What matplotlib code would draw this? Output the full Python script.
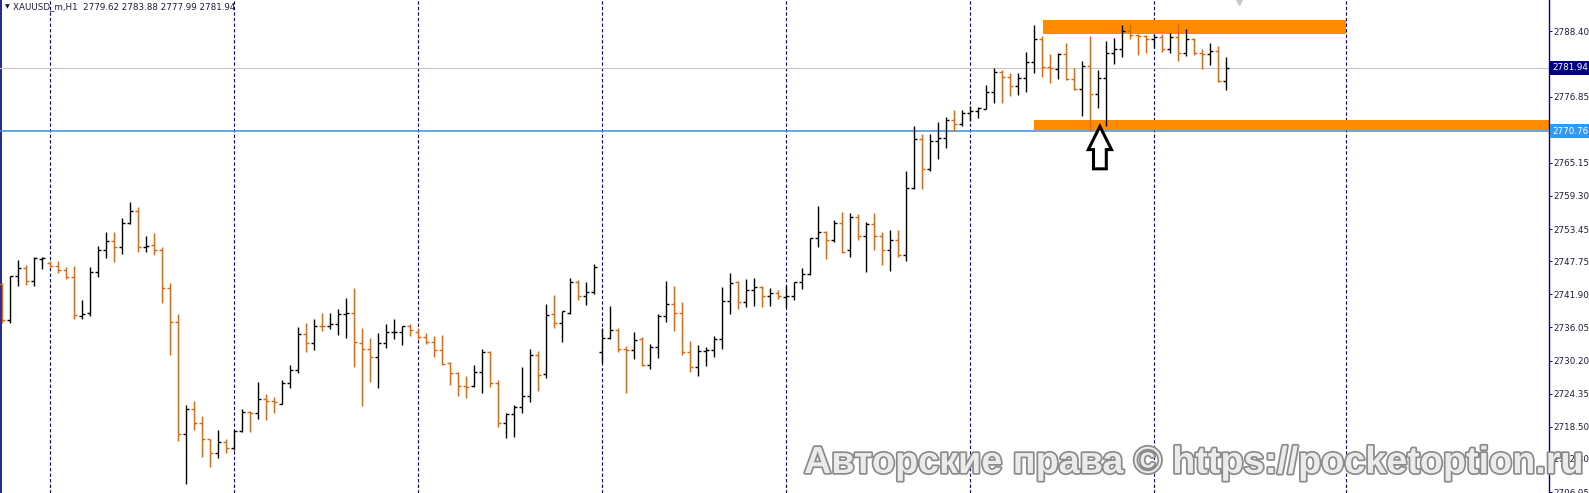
import numpy as np
import matplotlib
matplotlib.use("Agg")
import matplotlib.pyplot as plt
import matplotlib.patches as mpatches
import matplotlib.patheffects as pe

# XAUUSD_m, H1 bars
opens = [2743.7, 2737.4, 2745.2, 2746.6, 2744.3, 2748.2, 2747.5, 2747.0, 2746.2, 2744.9,
         2738.1, 2738.6, 2745.9, 2749.7, 2751.3, 2750.2, 2754.6, 2756.6, 2750.3, 2750.6,
         2749.7, 2743.0, 2737.1, 2717.3, 2721.6, 2719.1, 2716.3, 2713.8, 2715.8, 2714.7,
         2717.7, 2721.1, 2720.9, 2723.4, 2723.0, 2722.6, 2726.2, 2728.5, 2734.9, 2733.3,
         2736.4, 2736.3, 2736.7, 2738.4, 2738.7, 2733.3, 2732.2, 2730.8, 2733.3, 2735.2,
         2735.3, 2736.3, 2735.3, 2734.4, 2733.5, 2732.0, 2729.8, 2728.0, 2725.7, 2725.7,
         2728.1, 2731.8, 2726.3, 2719.1, 2720.7, 2722.0, 2723.9, 2731.2, 2727.8, 2738.4,
         2736.8, 2738.6, 2744.1, 2741.7, 2742.3, 2731.8, 2734.2, 2735.6, 2732.2, 2732.0,
         2734.0, 2729.4, 2732.6, 2738.1, 2740.2, 2738.6, 2731.8, 2729.0, 2731.9, 2732.0,
         2734.0, 2740.7, 2744.1, 2740.5, 2742.6, 2743.2, 2741.6, 2742.1, 2741.4, 2741.7,
         2744.1, 2745.5, 2751.9, 2752.9, 2751.5, 2754.5, 2749.7, 2755.6, 2752.3, 2754.4,
         2752.2, 2749.7, 2751.5, 2748.9, 2760.7, 2769.3, 2764.0, 2769.1, 2769.5, 2772.7,
         2772.0, 2774.0, 2774.4, 2774.7, 2777.7, 2781.3, 2780.3, 2778.7, 2780.1, 2782.9,
         2787.0, 2782.1, 2781.8, 2784.4, 2779.9, 2778.3, 2782.3, 2777.3, 2780.1, 2784.6,
         2785.2, 2788.4, 2787.7, 2787.5, 2787.0, 2787.4, 2785.3, 2787.4, 2784.5, 2787.0,
         2784.5, 2784.4, 2784.9, 2779.62]
highs = [2743.9, 2745.2, 2748.0, 2747.1, 2748.6, 2748.5, 2747.8, 2747.8, 2746.7, 2746.9,
         2740.9, 2746.7, 2750.5, 2752.9, 2752.9, 2755.4, 2758.2, 2757.4, 2752.2, 2752.7,
         2750.2, 2743.9, 2738.4, 2722.3, 2723.1, 2720.4, 2716.4, 2717.9, 2716.4, 2717.9,
         2721.6, 2721.2, 2726.4, 2724.3, 2723.7, 2726.7, 2729.4, 2736.1, 2736.8, 2737.6,
         2738.7, 2738.7, 2739.3, 2741.3, 2743.0, 2736.0, 2734.2, 2735.0, 2736.7, 2737.6,
         2736.3, 2736.6, 2735.9, 2735.1, 2734.5, 2734.7, 2730.0, 2728.1, 2727.5, 2729.4,
         2732.2, 2731.9, 2726.8, 2720.9, 2722.3, 2729.1, 2732.2, 2731.9, 2740.2, 2741.8,
         2739.0, 2744.8, 2744.5, 2744.1, 2747.2, 2736.0, 2739.9, 2736.0, 2732.8, 2735.3,
         2734.4, 2733.1, 2738.4, 2744.3, 2743.4, 2740.6, 2733.7, 2732.9, 2732.6, 2734.5,
         2743.2, 2745.6, 2744.3, 2744.6, 2744.8, 2743.3, 2743.1, 2742.7, 2743.3, 2744.1,
         2746.5, 2751.9, 2757.5, 2753.1, 2755.1, 2756.5, 2756.3, 2756.1, 2754.7, 2756.3,
         2753.0, 2753.2, 2753.3, 2763.8, 2771.6, 2770.3, 2770.2, 2772.4, 2773.3, 2774.5,
         2774.5, 2775.2, 2775.0, 2778.9, 2782.0, 2781.6, 2781.1, 2781.0, 2784.7, 2789.5,
         2787.6, 2784.4, 2784.5, 2786.4, 2782.0, 2783.2, 2787.5, 2781.6, 2786.7, 2787.3,
         2789.5, 2789.7, 2787.9, 2787.8, 2787.9, 2787.9, 2788.1, 2789.9, 2788.8, 2787.3,
         2785.2, 2786.3, 2785.8, 2783.88]
lows = [2736.8, 2736.9, 2743.3, 2743.6, 2743.4, 2746.4, 2746.8, 2745.6, 2744.6, 2737.6,
        2737.6, 2738.0, 2745.0, 2748.4, 2747.7, 2749.0, 2754.3, 2749.4, 2749.4, 2748.8,
        2740.4, 2731.2, 2716.0, 2708.3, 2717.9, 2713.2, 2711.4, 2712.9, 2713.8, 2714.4,
        2717.6, 2717.5, 2719.9, 2719.7, 2721.0, 2722.5, 2725.4, 2728.0, 2731.8, 2732.1,
        2735.5, 2735.8, 2734.7, 2734.2, 2729.1, 2722.1, 2726.5, 2725.4, 2732.5, 2734.1,
        2733.0, 2734.6, 2734.1, 2733.1, 2730.9, 2729.5, 2725.8, 2724.0, 2723.5, 2725.5,
        2724.5, 2725.6, 2718.5, 2716.5, 2716.7, 2720.9, 2722.9, 2724.8, 2727.2, 2736.0,
        2733.5, 2738.5, 2740.9, 2740.0, 2742.0, 2729.8, 2734.1, 2731.8, 2724.4, 2730.4,
        2729.3, 2728.7, 2730.7, 2737.1, 2735.4, 2731.1, 2728.1, 2727.5, 2729.2, 2730.9,
        2732.3, 2738.5, 2739.4, 2739.7, 2739.9, 2739.7, 2739.9, 2741.0, 2739.6, 2740.9,
        2742.9, 2745.4, 2750.2, 2748.2, 2751.1, 2749.2, 2748.6, 2751.5, 2745.9, 2749.8,
        2747.1, 2746.0, 2748.6, 2747.8, 2760.6, 2760.5, 2763.8, 2765.9, 2767.8, 2770.8,
        2771.6, 2772.6, 2773.1, 2774.6, 2775.8, 2775.8, 2776.9, 2777.2, 2777.7, 2781.0,
        2780.3, 2779.3, 2780.0, 2779.8, 2778.0, 2773.4, 2770.8, 2774.9, 2771.6, 2782.6,
        2783.9, 2787.1, 2784.2, 2784.5, 2785.6, 2784.8, 2784.5, 2783.2, 2784.1, 2784.2,
        2781.8, 2782.5, 2779.4, 2777.99]
closes = [2737.4, 2745.2, 2746.6, 2744.3, 2748.4, 2748.3, 2747.0, 2746.2, 2744.9, 2738.2,
          2738.4, 2745.9, 2749.7, 2751.3, 2750.2, 2754.6, 2756.6, 2750.3, 2750.5, 2749.7,
          2743.0, 2737.1, 2717.3, 2721.6, 2719.1, 2716.3, 2713.8, 2715.8, 2714.7, 2717.8,
          2721.1, 2720.9, 2723.4, 2723.0, 2722.8, 2726.2, 2728.5, 2734.9, 2733.3, 2736.4,
          2736.3, 2736.7, 2738.4, 2738.7, 2733.4, 2732.2, 2730.8, 2733.3, 2735.2, 2735.3,
          2736.3, 2735.6, 2734.4, 2733.5, 2732.0, 2729.6, 2728.0, 2725.7, 2725.6, 2728.1,
          2731.8, 2726.3, 2719.1, 2720.7, 2722.0, 2723.9, 2731.2, 2727.6, 2738.2, 2736.8,
          2739.0, 2744.1, 2741.7, 2742.3, 2746.7, 2734.2, 2735.6, 2732.2, 2732.0, 2733.8,
          2729.4, 2732.6, 2738.1, 2740.2, 2738.6, 2731.8, 2729.0, 2731.9, 2732.0, 2734.0,
          2740.7, 2743.9, 2740.5, 2742.6, 2743.2, 2741.6, 2742.1, 2741.7, 2741.7, 2744.1,
          2745.5, 2751.9, 2752.9, 2751.5, 2754.5, 2749.4, 2755.6, 2752.3, 2754.4, 2752.2,
          2749.7, 2751.5, 2748.9, 2760.7, 2769.3, 2764.0, 2769.1, 2769.5, 2772.7, 2772.0,
          2774.0, 2774.4, 2774.8, 2777.7, 2781.3, 2780.3, 2778.7, 2780.1, 2782.9, 2787.0,
          2782.1, 2781.9, 2784.4, 2779.9, 2778.3, 2782.3, 2777.3, 2780.1, 2784.6, 2785.2,
          2788.4, 2787.7, 2787.5, 2787.0, 2787.4, 2785.3, 2787.4, 2784.6, 2787.0, 2784.5,
          2784.4, 2784.9, 2779.62, 2781.94]

# day separators (bar index)
separators = [6, 29, 52, 75, 98, 121, 144, 168]
ytick_values = [2788.40, 2782.55, 2776.85, 2770.95, 2765.15, 2759.30, 2753.45, 2747.75,
                2741.90, 2736.05, 2730.20, 2724.35, 2718.50, 2712.80, 2706.95]
bid_price = 2781.94
level_price = 2770.76
header = "XAUUSD_m,H1  2779.62 2783.88 2777.99 2781.94"
watermark = "Авторские права © https://pocketoption.ru"

# drawn zones: (x0, x1, y0, y1)
top_zone = (130.1, 168.0, 2787.95, 2790.4)
bottom_zone = (129.0, 200.0, 2770.9, 2772.75)

NAVY = "#000080"
DOWN = "#dd6516"
ZONE = "#ff8c00"

W, H = 1589, 493
fig = plt.figure(figsize=(W / 100, H / 100), dpi=100)
ax = fig.add_axes([0, 0, 1549 / W, 1])

o = np.array(opens)
h = np.array(highs)
l = np.array(lows)
c = np.array(closes)
x = np.arange(len(o))
cols = np.where(c > o, "#000000", DOWN)

tick = 0.375
ax.vlines(x, l, h, colors=cols, lw=1.0, zorder=4)
ax.hlines(o, x - tick, x, colors=cols, lw=1.0, zorder=4)
ax.hlines(c, x, x + tick, colors=cols, lw=1.0, zorder=4)

for s in separators:
    ax.axvline(s, color=NAVY, lw=0.8, ls=(0, (3, 2)), zorder=1)
ax.axvline(-0.14, color=NAVY, lw=1.2, zorder=1)

ax.axhline(bid_price, color="#c8c8c8", lw=0.8, zorder=1)

for z in (top_zone, bottom_zone):
    ax.add_patch(mpatches.Rectangle((z[0], z[2]), z[1] - z[0], z[3] - z[2],
                                    color=ZONE, lw=0, zorder=2))
ax.axhline(level_price, color="#3d8fd6", lw=1.1, zorder=3)

# arrow pointing at the support zone
arr = mpatches.FancyArrow(137.2, 2764.1, 0, 2771.6 - 2764.1, width=1.6, head_width=2.9,
                          head_length=4.1, length_includes_head=True,
                          fc="white", ec="black", lw=2.2, zorder=8)
ax.add_patch(arr)
ax.plot(154.6, 2793.6, marker="v", ms=4, color="#c8c8c8", clip_on=False, zorder=5)

ax.set_xlim(-2.3 / 8, (1549 - 2.3) / 8)
ax.set_ylim(2793.95 - 0.1768 * H, 2793.95)

for sp in ("top", "bottom", "left"):
    ax.spines[sp].set_visible(False)
ax.spines["right"].set_color(NAVY)
ax.spines["right"].set_linewidth(1.0)
ax.set_xticks([])
ax.yaxis.tick_right()
ax.set_yticks(ytick_values)
ax.set_yticklabels([f"{v:.2f}" for v in ytick_values])
ax.tick_params(axis="y", direction="out", length=2.5, width=0.7, color=NAVY,
               labelsize=6.3, labelcolor="#1c1c3c", pad=1)

for val, bg in ((bid_price, NAVY), (level_price, "#3399ee")):
    ax.text(1.0 + 3 / 1549, val, f"{val:.2f}", transform=ax.get_yaxis_transform(),
            ha="left", va="center", fontsize=6.3, color="white", clip_on=False, zorder=10,
            bbox=dict(boxstyle="square,pad=0.25", fc=bg, ec="none"))

fig.text(4.5 / W, 1 - 6.5 / H, "▼", fontsize=4.5, color="#1c1c3c", va="center")
fig.text(12.7 / W, 1 - 6.5 / H, header, fontsize=6.3, color="#1c1c3c", va="center")

fig.text(804 / W, 1 - 473 / H, watermark, family=["Liberation Sans", "DejaVu Sans"],
         fontweight="bold", fontsize=27.2, color="#ebebeb", va="baseline", zorder=20,
         path_effects=[pe.withStroke(linewidth=2.5, foreground="#8a8a8a")])

fig.savefig("out.png", dpi=100)
